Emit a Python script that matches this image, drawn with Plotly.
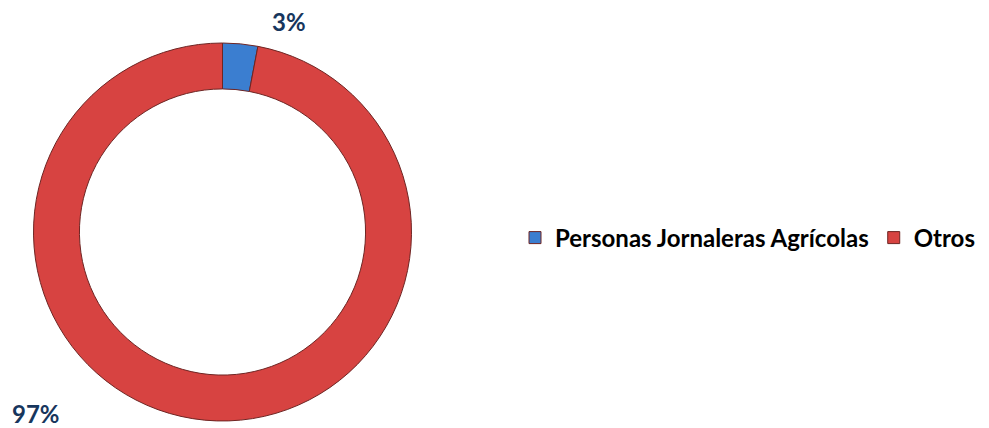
import plotly.graph_objects as go

labels = ["Personas Jornaleras Agrícolas", "Otros"]
values = [3, 97]
colors = ["#3B7ED0", "#D74341"]

# page body adds an 8px margin, so the figure is drawn 8px smaller
W, H = 981, 420

# where the outside percentage labels sit (figure pixels)
label_px = [(281, 13), (28, 405)]

total = sum(values)
pct_text = [f"{round(v / total * 100)}%" for v in values]

fig = go.Figure()
fig.add_trace(go.Pie(
    labels=labels,
    values=values,
    hole=0.757,
    sort=False,
    direction="clockwise",
    rotation=0,
    textinfo="none",
    hoverinfo="label+percent",
    marker=dict(colors=colors, line=dict(color="#6e2523", width=1)),
    domain=dict(x=[22 / W, 407 / W], y=[1 - 413 / H, 1 - 35 / H]),
))

for txt, (px_x, px_y) in zip(pct_text, label_px):
    fig.add_annotation(
        x=px_x / W, y=1 - px_y / H, xref="paper", yref="paper",
        text=f"<b>{txt}</b>", showarrow=False,
        font=dict(family="Lato", size=24, color="#17365D"),
        xanchor="center", yanchor="middle",
    )

fig.update_layout(
    width=W, height=H,
    margin=dict(l=0, r=0, t=0, b=0),
    paper_bgcolor="white",
    plot_bgcolor="white",
    font=dict(family="Lato", size=24, color="#000000"),
    legend=dict(
        orientation="h",
        x=507 / W, y=1 - 230 / H,
        xanchor="left", yanchor="middle",
        font=dict(family="Lato", size=24, color="#000000", weight="bold"),
        itemwidth=30,
        tracegroupgap=0,
    ),
    showlegend=True,
)

fig.write_html("out.html")
